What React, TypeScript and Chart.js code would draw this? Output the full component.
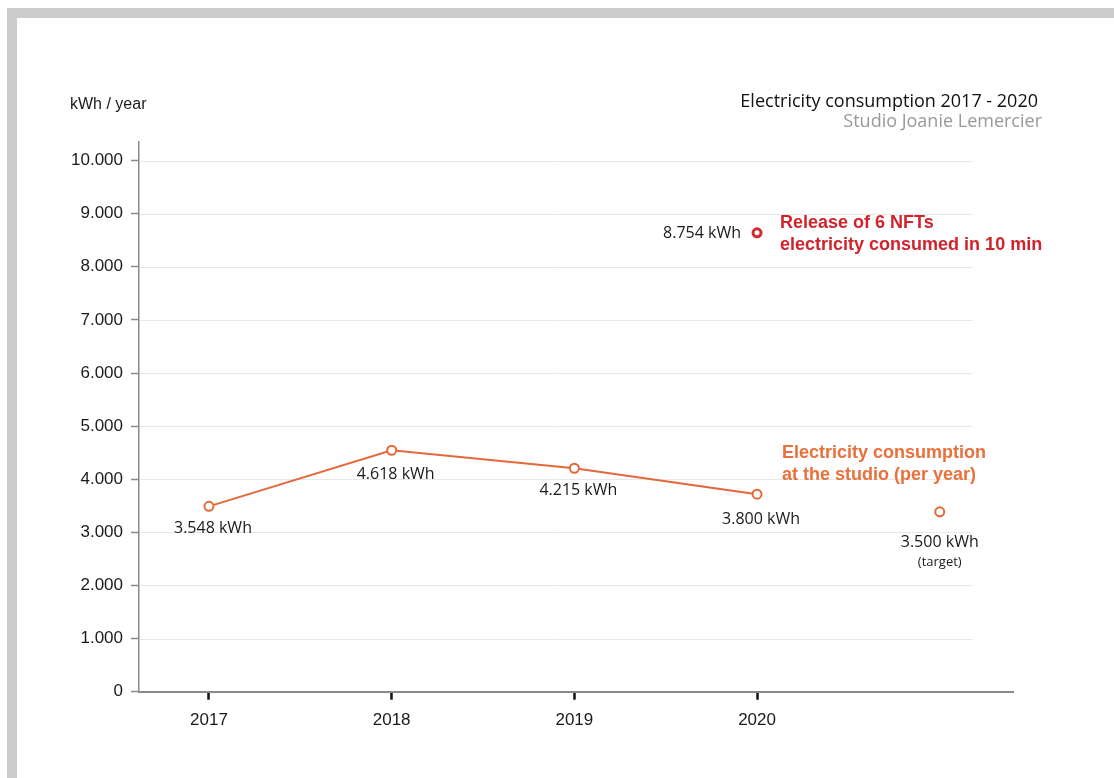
import React, { useEffect, useRef } from "react";
import { Chart, registerables } from "chart.js";

Chart.register(...registerables);

// ---- data ----
const years = [2017, 2018, 2019, 2020];
const consumption = [3490, 4546, 4207, 3718];
const consumptionLabels = ["3.548 kWh", "4.618 kWh", "4.215 kWh", "3.800 kWh"];
const targetYear = 2021;
const targetValue = 3386;
const targetLabel = "3.500 kWh";
const targetNote = "(target)";
const nftYear = 2020;
const nftValue = 8640;
const nftLabel = "8.754 kWh";
const nftNote = ["Release of 6 NFTs", "electricity consumed in 10 min"];
const seriesNote = ["Electricity consumption", "at the studio (per year)"];
const yTicks = [0, 1000, 2000, 3000, 4000, 5000, 6000, 7000, 8000, 9000, 10000];
const yTickLabels = ["0", "1.000", "2.000", "3.000", "4.000", "5.000", "6.000", "7.000", "8.000", "9.000", "10.000"];
const titleText = "Electricity consumption 2017 - 2020";
const subtitleText = "Studio Joanie Lemercier";
const yUnit = "kWh / year";

// ---- style ----
const ORANGE = "#e4683a";
const ORANGE_TEXT = "#e8703a";
const RED = "#d42a2a";
const RED_TEXT = "#d0232b";
const TEXT = "#1a1a1a";
const AXIS = "#8a8a8a";
const GRID = "#e8e8e8";
const SANS = "'Liberation Sans', Arial, sans-serif";
const MYRIAD = "'Open Sans', 'Noto Sans', sans-serif";
const labelDy = [27, 29, 27, 30];

const annotations = {
  id: "annotations",
  beforeDatasetsDraw(chart: any) {
    const { ctx, scales } = chart;
    const xs = scales.x;
    const ys = scales.y;
    const left = xs.left;
    const right = xs.getPixelForValue(2021.18);
    ctx.save();
    ctx.strokeStyle = GRID;
    ctx.lineWidth = 1;
    yTicks.forEach((v) => {
      if (v === 0) return;
      const y = Math.round(ys.getPixelForValue(v)) + 0.5;
      ctx.beginPath();
      ctx.moveTo(left + 1, y);
      ctx.lineTo(right, y);
      ctx.stroke();
    });
    ctx.restore();
  },
  afterDraw(chart: any) {
    const { ctx, scales } = chart;
    const xs = scales.x;
    const ys = scales.y;
    ctx.save();
    // header
    ctx.textBaseline = "alphabetic";
    ctx.fillStyle = TEXT;
    ctx.font = `16px ${SANS}`;
    ctx.textAlign = "left";
    ctx.fillText(yUnit, 53, 91);
    ctx.font = `18px ${MYRIAD}`;
    ctx.textAlign = "right";
    ctx.fillStyle = "#111";
    ctx.fillText(titleText, 1021, 89);
    ctx.fillStyle = "#999";
    ctx.fillText(subtitleText, 1025, 109);

    // data labels
    ctx.font = `16px ${MYRIAD}`;
    ctx.fillStyle = TEXT;
    ctx.textAlign = "center";
    years.forEach((yr, i) => {
      const px = xs.getPixelForValue(yr) + 4;
      const py = ys.getPixelForValue(consumption[i]) + labelDy[i];
      ctx.fillText(consumptionLabels[i], px, py);
    });
    const tx = xs.getPixelForValue(targetYear);
    const ty = ys.getPixelForValue(targetValue);
    ctx.fillText(targetLabel, tx, ty + 35);
    ctx.font = `13px ${MYRIAD}`;
    ctx.fillText(targetNote, tx, ty + 54);

    // NFT
    const nx = xs.getPixelForValue(nftYear);
    const ny = ys.getPixelForValue(nftValue);
    ctx.font = `16px ${MYRIAD}`;
    ctx.textAlign = "right";
    ctx.fillText(nftLabel, nx - 16, ny + 5);
    ctx.textAlign = "left";
    ctx.font = `bold 18px ${SANS}`;
    ctx.fillStyle = RED_TEXT;
    ctx.fillText(nftNote[0], nx + 23, ny - 5);
    ctx.fillText(nftNote[1], nx + 23, ny + 17);

    // series note
    const sx = xs.getPixelForValue(2020) + 25;
    const sy = ys.getPixelForValue(4400);
    ctx.fillStyle = ORANGE_TEXT;
    ctx.fillText(seriesNote[0], sx, sy);
    ctx.fillText(seriesNote[1], sx, sy + 22);
    ctx.restore();
  },
};

export default function App() {
  const ref = useRef<HTMLCanvasElement>(null);
  useEffect(() => {
    if (!ref.current) return;
    const chart = new Chart(ref.current, {
      type: "line",
      data: {
        datasets: [
          {
            data: years.map((x, i) => ({ x, y: consumption[i] })),
            borderColor: ORANGE,
            borderWidth: 2,
            pointRadius: 4.5,
            pointBorderWidth: 2,
            pointBorderColor: ORANGE,
            pointBackgroundColor: "#fff",
            tension: 0,
          },
          {
            data: [{ x: targetYear, y: targetValue }],
            showLine: false,
            pointRadius: 4.5,
            pointBorderWidth: 2,
            pointBorderColor: ORANGE,
            pointBackgroundColor: "#fff",
          },
          {
            data: [{ x: nftYear, y: nftValue }],
            showLine: false,
            pointRadius: 4,
            pointBorderWidth: 3,
            pointBorderColor: RED,
            pointBackgroundColor: "#fff",
          },
        ],
      },
      options: {
        animation: false,
        responsive: false,
        layout: { padding: { left: 0, top: 124, right: 101, bottom: 30 } },
        plugins: { legend: { display: false }, tooltip: { enabled: false }, title: { display: false } },
        scales: {
          x: {
            type: "linear",
            min: 2016.617,
            max: 2021.401,
            afterBuildTicks: (s: any) => {
              s.ticks = years.map((v) => ({ value: v }));
            },
            afterFit: (s: any) => {
              s.height = 56.3;
            },
            ticks: {
              callback: (v: any) => String(v),
              font: { family: SANS, size: 17 },
              color: TEXT,
              padding: 10,
              maxRotation: 0,
              autoSkip: false,
            },
            grid: {
              drawOnChartArea: false,
              drawTicks: true,
              tickLength: 8,
              tickWidth: 2.5,
              tickColor: "#111",
              color: "rgba(0,0,0,0)",
            },
            border: { color: AXIS, width: 2 },
          },
          y: {
            type: "linear",
            min: 0,
            max: 10350,
            afterBuildTicks: (s: any) => {
              s.ticks = yTicks.map((v) => ({ value: v }));
            },
            afterFit: (s: any) => {
              s.width = 122;
            },
            ticks: {
              callback: (v: any) => yTickLabels[yTicks.indexOf(Number(v))] ?? "",
              font: { family: SANS, size: 17 },
              color: TEXT,
              padding: 8,
            },
            grid: {
              drawOnChartArea: false,
              drawTicks: true,
              tickLength: 8,
              tickWidth: 1.5,
              tickColor: AXIS,
              color: "rgba(0,0,0,0)",
            },
            border: { color: AXIS, width: 1.5 },
          },
        },
      },
      plugins: [annotations],
    });
    return () => chart.destroy();
  }, []);

  return (
    <div
      style={{
        position: "fixed",
        left: 7,
        top: 8,
        right: 0,
        bottom: 0,
        borderTop: "10px solid #cccccc",
        borderLeft: "10px solid #cccccc",
        background: "#fff",
        boxSizing: "border-box",
      }}
    >
      <canvas ref={ref} width={1097} height={760} style={{ display: "block", width: 1097, height: 760 }} />
    </div>
  );
}
